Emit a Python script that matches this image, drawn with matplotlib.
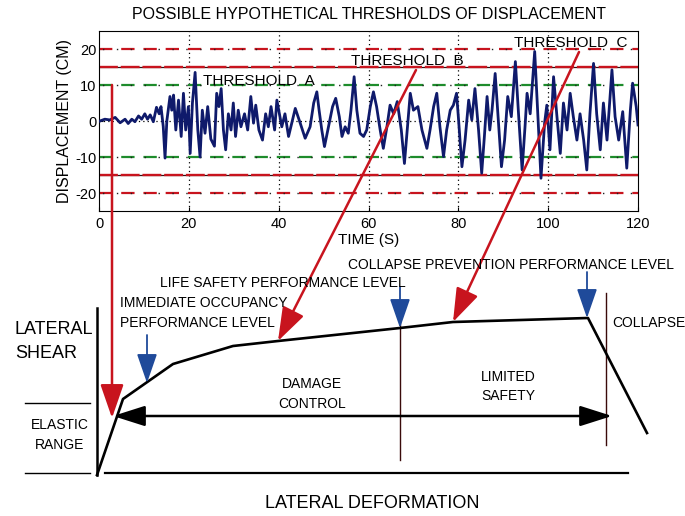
"""
Performance-based design sketch: displacement record with threshold levels
on top, pushover (lateral shear vs deformation) curve underneath.
"""

import matplotlib.pyplot as plt

plt.rcParams['font.family'] = ['Liberation Sans', 'DejaVu Sans']
plt.rcParams['axes.unicode_minus'] = False

# ==========================================
# DATA
# ==========================================
# displacement record, read off peak by peak: time [s], displacement [cm]
t_pts = [0.2, 1.3, 2.4, 3.6, 4.7, 5.8, 6.5, 7.3, 8.0, 8.8, 9.5, 10.2, 10.8, 11.4,
         12.1, 12.8, 13.4, 13.8, 14.3, 14.7, 15.1, 15.8, 16.2, 16.6, 17.1, 17.7,
         18.3, 18.8, 19.3, 19.9,
         20.3, 20.8, 21.4, 22.0, 22.5, 23.0, 23.6, 24.2, 24.9, 25.7, 26.2, 26.7,
         27.2, 27.7, 28.2, 28.8, 29.4, 29.9, 30.4, 31.0, 31.6, 32.4, 33.1, 33.8,
         34.4, 34.9, 35.6, 36.4, 37.1, 37.7, 38.3, 39.1, 39.6,
         40.7, 41.4, 42.2, 43.7, 44.8, 45.9, 47.0, 47.8, 48.5, 49.0, 49.6, 50.2,
         51.1, 52.0, 52.7, 53.5, 54.1, 54.8, 55.5, 56.1, 56.8, 57.4, 58.1, 58.9,
         59.6,
         60.4, 61.1, 61.8, 62.6, 63.3, 64.1, 64.8, 65.6, 66.4, 67.3, 68.0, 68.5,
         69.3, 70.0, 71.0, 71.9, 73.0, 73.7, 74.5, 75.2, 75.9, 76.7, 77.4, 78.2,
         78.9, 79.6,
         80.0, 80.8, 81.5, 82.3, 83.0, 83.7, 84.5, 85.2, 85.8, 86.4, 87.0, 87.5,
         88.2, 88.8, 89.6, 90.3, 91.0, 91.8, 92.7, 93.4, 94.2, 94.9, 95.3, 96.0,
         97.0, 97.7, 98.4, 99.2, 99.7,
         100.4, 101.2, 101.9, 102.7, 103.4, 104.2, 104.9, 105.6, 106.4, 107.1,
         107.9, 108.6, 109.3, 110.1, 110.8, 111.6, 112.3, 113.1, 114.2, 114.9,
         115.7, 116.6, 117.5, 118.3, 118.8, 119.6, 120.0]
v_pts = [0.0, 0.5, 0.3, 1.0, -0.5, 0.5, -0.7, 0.5, -0.2, 1.4, 0.5, 2.0, 0.5, 1.7,
         -0.2, 3.8, 2.0, 4.0, -1.5, -10.3, 0.0, 6.8, 3.0, 7.2, -2.5, 5.8,
         -4.3, 7.7, -2.5, 4.0,
         -9.0, 5.0, 13.5, -2.5, -10.0, 3.0, -3.4, 4.0, -5.0, -7.0, 7.7, 4.0,
         9.0, -2.5, -8.0, 2.0, -2.5, 5.0, -4.3, 3.0, -1.6, 2.0, -2.5, 6.8,
         -0.6, 4.4, -2.5, -5.3, 2.0, -1.6, 4.0, -2.5, 5.8,
         -1.6, 2.0, -4.3, 3.5, -0.6, -4.8, -1.6, 5.0, 8.1, 3.0, -2.5, -7.1,
         -1.6, 4.0, 6.3, 1.2, -4.3, -1.6, -3.4, 3.0, 12.3, 3.0, -3.4, -4.3,
         -2.5,
         4.0, 8.1, 4.0, -2.5, -7.6, -1.6, 4.4, 2.0, 5.4, -2.5, -11.8, -4.3,
         7.7, 3.0, 4.0, -2.5, -7.6, -2.5, 4.0, 7.7, -1.6, -9.9, -2.5, 3.0,
         4.4, 7.7,
         1.2, -12.7, -5.3, 5.8, 0.3, 9.0, -2.5, -14.5, -4.3, 6.8, -2.5, 3.0,
         13.2, 2.0, -12.7, -5.3, 6.8, 1.2, 16.5, 2.0, -13.6, -0.6, 7.7, 2.0,
         19.3, 2.0, -15.9, -0.6, 4.4,
         -8.0, 12.3, 2.0, -9.0, 5.0, -2.5, 7.7, 1.2, -5.3, 2.0,
         -5.3, -13.6, 2.0, 16.0, 2.0, -8.0, 5.0, -5.3, 14.2, 1.2,
         -5.3, 2.6, -13.1, 3.0, 10.5, 4.0, -1.1]

x_ticks = [0, 20, 40, 60, 80, 100, 120]
y_ticks = [-20, -10, 0, 10, 20]
grid_t = [20, 40, 60, 80, 100]

# threshold levels [cm]
thr_c = 20   # collapse prevention
thr_b = 15   # life safety
thr_a = 10   # immediate occupancy

# pushover curve, drawn in figure pixel units (x right, y down)
curve_x = [97, 123, 173, 233, 278, 400, 453, 588, 647]
curve_y = [475, 399, 364, 346, 341, 328, 322, 318, 433]

RED = "#c8141e"
GREEN = "#1e8c2c"
BLUE = "#1f4a9a"
NAVY = "#0f1a6b"

# ==========================================
# FIGURE
# ==========================================
fig = plt.figure(figsize=(6.85, 5.16), dpi=100)

ax = fig.add_axes([99 / 685, 1 - 211 / 516, 539 / 685, 180 / 516])
ax.set_xlim(0, 120)
ax.set_ylim(-25, 25)

# dotted grid: verticals at 20..100, horizontal at 0
for g in grid_t:
    ax.axvline(g, color="k", lw=0.9, ls=(0, (1, 2.5)), zorder=1)
ax.axhline(0, color="k", lw=0.9, ls=(0, (1, 2.5)), zorder=1)

# threshold lines
for s in (1, -1):
    # C: red dash-dot
    ax.axhline(s * thr_c, color=RED, lw=1.6, ls=(0, (6, 4)), zorder=2)
    ax.axhline(s * thr_c, color="#202020", lw=1.0, ls=(7.5, (1, 9)), zorder=2)
    # B: nearly solid red over dark
    ax.axhline(s * thr_b, color="#301010", lw=0.9, zorder=2)
    ax.axhline(s * thr_b, color=RED, lw=1.7, ls=(0, (8, 1.2)), zorder=2)
    # A: green dash-dot
    ax.axhline(s * thr_a, color=GREEN, lw=1.6, ls=(0, (6, 4)), zorder=2)
    ax.axhline(s * thr_a, color="#202020", lw=1.0, ls=(7.5, (1, 9)), zorder=2)

ax.plot(t_pts, v_pts, color=NAVY, lw=2.0, zorder=3)

ax.set_xticks(x_ticks)
ax.set_yticks(y_ticks)
ax.tick_params(direction="in", length=3, labelsize=10.5, pad=4)
ax.tick_params(axis="y", pad=2)
for sp in ax.spines.values():
    sp.set_linewidth(0.8)

ax.set_xlabel("TIME (S)", fontsize=11, labelpad=2)
ax.set_ylabel("DISPLACEMENT (CM)", fontsize=11.5, labelpad=2)
ax.set_title("POSSIBLE HYPOTHETICAL THRESHOLDS OF DISPLACEMENT",
             fontsize=11.5, pad=9)

ax.text(23.2, 11.2, "THRESHOLD  A", fontsize=11, va="center", zorder=4)
ax.text(56.0, 16.8, "THRESHOLD  B", fontsize=11, va="center", zorder=4)
ax.text(92.5, 21.8, "THRESHOLD  C", fontsize=11, va="center", zorder=4)

# ==========================================
# DIAGRAM OVERLAY (pixel coordinates)
# ==========================================
ov = fig.add_axes([0, 0, 1, 1])
ov.set_xlim(0, 685)
ov.set_ylim(516, 0)
ov.axis("off")
ov.patch.set_alpha(0)

# axes of the sketch
ov.plot([97, 97], [308, 475], color="k", lw=1.8)
ov.plot([105, 628], [473, 473], color="k", lw=1.6)
ov.plot([25, 90], [403, 403], color="k", lw=1.0)
ov.plot([25, 90], [473, 473], color="k", lw=1.0)
ov.plot([400, 400], [320, 460], color="#3a0a0a", lw=1.0)
ov.plot([606, 606], [293, 445], color="#3a0a0a", lw=1.0)

ov.plot(curve_x, curve_y, color="k", lw=1.9, solid_joinstyle="round")

# damage control / limited safety double arrow
ov.annotate("", xy=(113, 416), xytext=(612, 416),
            arrowprops=dict(arrowstyle="<|-|>,head_length=1.1,head_width=0.35",
                            mutation_scale=18, color="k", lw=1.8,
                            shrinkA=0, shrinkB=0))

# red threshold arrows
red_arrows = [((112, 85), (112, 418)),
              ((416, 70), (278, 341)),
              ((579, 52), (453, 322))]
for tail, tip in red_arrows:
    ov.annotate("", xy=tip, xytext=tail,
                arrowprops=dict(arrowstyle="-|>,head_length=1.3,head_width=0.45",
                                mutation_scale=16, color=RED, lw=1.8,
                                shrinkA=0, shrinkB=0))

# blue performance level arrows
blue_arrows = [((147, 335), (147, 383)),
               ((400, 287), (400, 328)),
               ((587, 272), (587, 318))]
for tail, tip in blue_arrows:
    ov.annotate("", xy=tip, xytext=tail,
                arrowprops=dict(arrowstyle="-|>,head_length=1.3,head_width=0.45",
                                mutation_scale=14, color=BLUE, lw=1.3,
                                shrinkA=0, shrinkB=0))

# labels
ov.text(15, 330, "LATERAL", fontsize=13, va="center", ha="left")
ov.text(15, 354, "SHEAR", fontsize=13, va="center", ha="left")
ov.text(60, 425, "ELASTIC", fontsize=10, va="center", ha="center")
ov.text(60, 445, "RANGE", fontsize=10, va="center", ha="center")
ov.text(120, 303, "IMMEDIATE OCCUPANCY", fontsize=10, va="center", ha="left")
ov.text(120, 323, "PERFORMANCE LEVEL", fontsize=10, va="center", ha="left")
ov.text(160, 283, "LIFE SAFETY PERFORMANCE LEVEL", fontsize=10, va="center", ha="left")
ov.text(348, 265, "COLLAPSE PREVENTION PERFORMANCE LEVEL", fontsize=10,
        va="center", ha="left")
ov.text(612, 323, "COLLAPSE", fontsize=10, va="center", ha="left")
ov.text(312, 384, "DAMAGE", fontsize=10, va="center", ha="center")
ov.text(312, 404, "CONTROL", fontsize=10, va="center", ha="center")
ov.text(508, 377, "LIMITED", fontsize=10, va="center", ha="center")
ov.text(508, 396, "SAFETY", fontsize=10, va="center", ha="center")
ov.text(372, 504, "LATERAL DEFORMATION", fontsize=13, va="center", ha="center")

fig.savefig("out.png", dpi=100)
